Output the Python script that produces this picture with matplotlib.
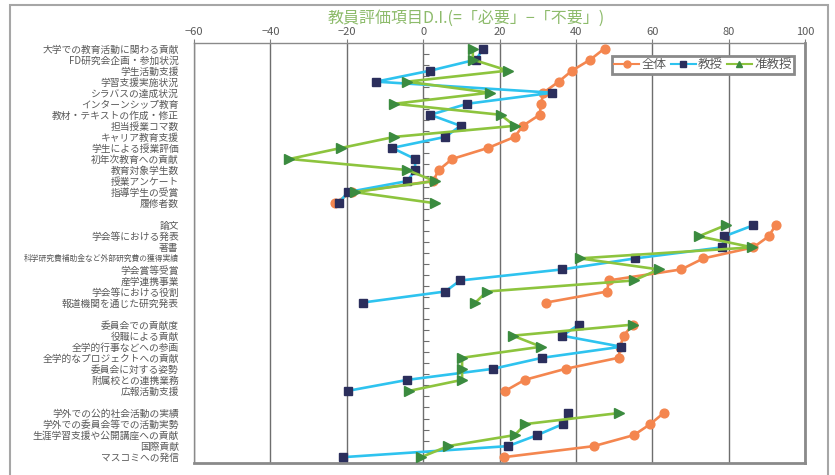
import numpy as np
import matplotlib
matplotlib.use('Agg')
import matplotlib.pyplot as plt
from matplotlib.lines import Line2D
from matplotlib.patches import Rectangle

plt.rcParams['font.family'] = ['Noto Sans CJK JP', 'DejaVu Sans']

# 評価項目 ('' はグループ間の空行)
labels = [
    '大学での教育活動に関わる貢献', 'FD研究会企画・参加状況', '学生活動支援', '学習支援実施状況',
    'シラバスの達成状況', 'インターンシップ教育', '教材・テキストの作成・修正', '担当授業コマ数',
    'キャリア教育支援', '学生による授業評価', '初年次教育への貢献', '教育対象学生数',
    '授業アンケート', '指導学生の受賞', '履修者数',
    '',
    '論文', '学会等における発表', '著書', '科学研究費補助金など外部研究費の獲得実績',
    '学会賞等受賞', '産学連携事業', '学会等における役割', '報道機関を通じた研究発表',
    '',
    '委員会での貢献度', '役職による貢献', '全学的行事などへの参画', '全学的なプロジェクトへの貢献',
    '委員会に対する姿勢', '附属校との連携業務', '広報活動支援',
    '',
    '学外での公的社会活動の実績', '学外での委員会等での活動実勢', '生涯学習支援や公開講座への貢献',
    '国際貢献', 'マスコミへの発信',
]

nan = np.nan
zentai = [47.5, 43.8, 39.0, 35.5, 31.5, 30.9, 30.5, 26.1, 24.0, 17.0, 7.6, 4.1, 2.6, -18.5, -23.2,
          nan,
          92.3, 90.5, 86.5, 73.4, 67.6, 48.6, 48.2, 32.2,
          nan,
          54.9, 52.5, 51.6, 51.2, 37.3, 26.6, 21.5,
          nan,
          63.0, 59.5, 55.2, 44.7, 21.1]
kyoju = [15.7, 13.9, 1.9, -12.3, 33.8, 11.6, 1.9, 9.8, 5.8, -8.1, -2.1, -2.1, -4.1, -19.7, -22.1,
         nan,
         86.5, 78.9, 78.3, 55.6, 36.4, 9.7, 5.8, -15.8,
         nan,
         40.8, 36.4, 51.9, 31.2, 18.3, -4.1, -19.8,
         nan,
         37.9, 36.6, 29.9, 22.2, -21.0]
junkyoju = [13.0, 13.0, 22.2, -4.2, 17.4, -7.5, 20.3, 24.0, -7.5, -21.4, -35.0, -4.2, 3.0, -17.9, 3.0,
            nan,
            79.2, 72.2, 86.2, 41.0, 61.7, 55.2, 16.7, 13.7,
            nan,
            54.9, 23.5, 30.9, 10.2, 10.2, 10.2, -3.7,
            nan,
            51.4, 26.8, 24.0, 6.5, -0.5]

c_zentai = '#F4864F'
c_kyoju_line, c_kyoju_mk = '#2EC3EF', '#2B2E5C'
c_jun_line, c_jun_mk = '#8DC43E', '#3B8B3F'
c_text = '#595959'

fig = plt.figure(figsize=(8.35, 4.75), dpi=100)
ax = fig.add_axes([194 / 835, 1 - 462.7 / 475, (805 - 194) / 835, (462.7 - 43) / 475])

y = np.arange(len(labels))

ax.plot(zentai, y, '-o', color=c_zentai, lw=1.9, ms=6.3, zorder=3)
ax.plot(kyoju, y, '-s', color=c_kyoju_line, lw=1.9, ms=5.3,
        markerfacecolor=c_kyoju_mk, markeredgecolor=c_kyoju_mk, zorder=4)
ax.plot(junkyoju, y, '->', color=c_jun_line, lw=1.9, ms=6.5,
        markerfacecolor=c_jun_mk, markeredgecolor=c_jun_mk, zorder=5)

ax.set_xlim(-60, 100)
ax.set_ylim(len(labels) - 0.5, -0.5)
ax.set_xticks(np.arange(-60, 101, 20))
ax.xaxis.tick_top()
ax.tick_params(axis='x', colors='#7F7F7F', labelcolor=c_text, labelsize=8, length=3, pad=1)
ax.grid(axis='x', color='#6E6E6E', lw=1.0)
ax.set_axisbelow(True)

ax.set_yticks(y)
ax.set_yticklabels(labels)
ax.tick_params(axis='y', length=0, pad=11, labelcolor=c_text, labelsize=7)
for t in ax.get_yticklabels():
    if t.get_text().startswith('科学研究費'):
        t.set_fontsize(5.6)

for s in ax.spines.values():
    s.set_color('#8A8A8A')
    s.set_linewidth(1.0)
ax.spines['bottom'].set_linewidth(2.0)
ax.spines['right'].set_linewidth(2.0)

# 0 の位置にある項目軸の目盛
sec = ax.secondary_yaxis(60 / 160)
sec.set_yticks(np.arange(len(labels)) + 0.5)
sec.tick_params(axis='y', direction='in', length=4, colors='#6E6E6E', labelleft=False)
sec.spines['left'].set_visible(False)

handles = [
    Line2D([], [], color=c_zentai, marker='o', lw=1.5, ms=5),
    Line2D([], [], color=c_kyoju_line, marker='s', lw=1.5, ms=5,
           markerfacecolor=c_kyoju_mk, markeredgecolor=c_kyoju_mk),
    Line2D([], [], color=c_jun_line, marker='^', lw=1.5, ms=5,
           markerfacecolor=c_jun_mk, markeredgecolor=c_jun_mk),
]
leg = ax.legend(handles, ['全体', '教授', '准教授'], loc='upper right',
                bbox_to_anchor=(0.993, 0.985), ncol=3, fontsize=9,
                handlelength=2.0, handletextpad=0.2, columnspacing=0.3,
                borderpad=0.2, fancybox=False, framealpha=1)
leg.get_frame().set_edgecolor('#8A8A8A')
leg.get_frame().set_linewidth(2.0)
for t in leg.get_texts():
    t.set_color(c_text)

fig.text(0.559, 0.962, '教員評価項目D.I.(=「必要」−「不要」)', ha='center', va='center',
         fontsize=11.5, color='#8DBB6B')

# グラフ全体の枠
fig.patches.append(Rectangle((10 / 835, -0.1), 818 / 835, 1.1 - 5 / 475,
                             transform=fig.transFigure, fill=False,
                             edgecolor='#A6A6A6', lw=1.5))

plt.savefig('out.png', dpi=100)
plt.close()
